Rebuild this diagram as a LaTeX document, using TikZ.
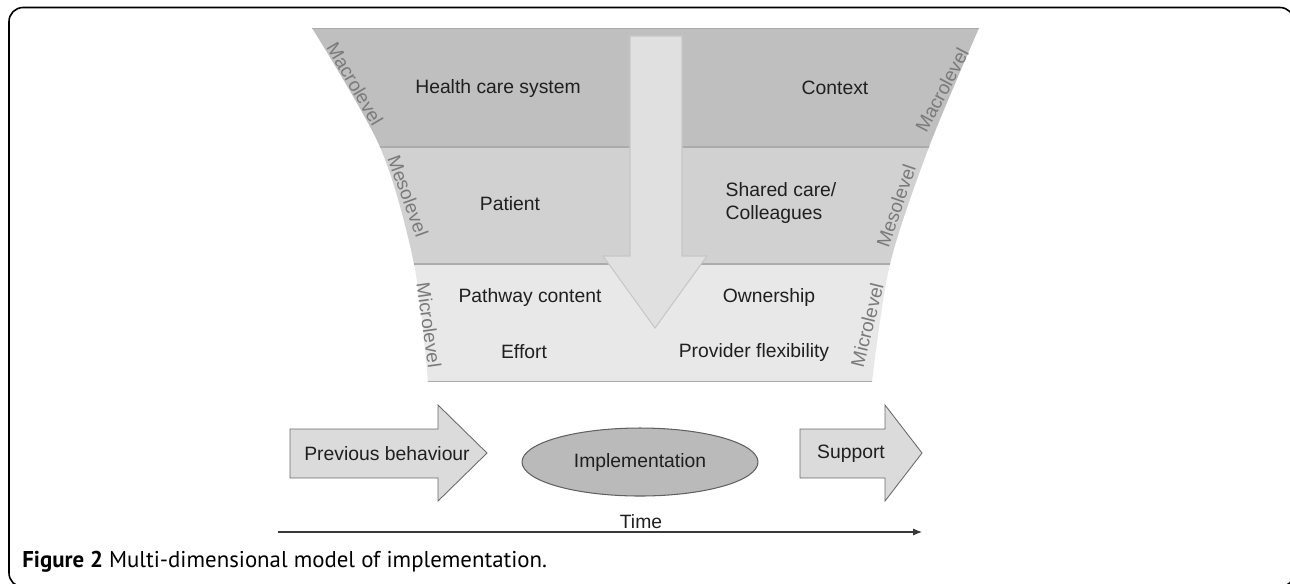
\documentclass[tikz,border=0pt]{standalone}
\usepackage{fontspec}
\setmainfont{Liberation Sans}
\newfontfamily\capfont{PT Sans}
\usetikzlibrary{arrows.meta,shapes.geometric}

\begin{document}
\begin{tikzpicture}[
    x=0.02cm, y=-0.02cm, %one unit is one pixel of the figure
    inner sep=0pt,
    lbl/.style={font=\fontsize{11}{13.5}\selectfont, text=black!88},
    lvl/.style={font=\fontsize{10.8}{12}\selectfont, text=black!52},
    sep/.style={draw=black!33, line width=0.6pt},
    blockarr/.style={draw=black!58, fill=black!14, line width=0.5pt,
        line join=miter},
    >={Latex[length=5pt,width=4pt]},
    ]
    \useasboundingbox (0,0) rectangle (1290,583);

    %frame
    \draw[line width=0.9pt, rounded corners=8] (9,7.5) rectangle (1294,587);

    %levels
    \begin{scope}
        \clip plot[smooth] coordinates {(312,28) (380,147) (414,264) (428,382)}
            -- plot[smooth] coordinates {(872,382) (890,264) (929,147) (979,28)}
            -- cycle;
        \fill[black!25] (300,28) rectangle (1000,147);
        \fill[black!18] (300,147) rectangle (1000,264);
        \fill[black!9] (300,264) rectangle (1000,382);
        \draw[sep] (300,28.5) -- (1000,28.5);
        \draw[sep] (300,147) -- (1000,147);
        \draw[sep] (300,264) -- (1000,264);
        \draw[sep] (300,381.5) -- (1000,381.5);
    \end{scope}

    %down arrow
    \draw[fill=black!12, draw=black!22, line width=0.6pt]
        (630,36) -- (682,36) -- (682,256) -- (707,256) -- (655,328)
        -- (603,256) -- (630,256) -- cycle;

    %factors
    \node[lbl] (hcs) at (498,88) {Health care system};
    \node[lbl] (ctx) at (835,88) {Context};
    \node[lbl] (pat) at (510,204) {Patient};
    \node[lbl, align=left] (shc) at (781,203) {Shared care/\\Colleagues};
    \node[lbl] (pwc) at (530,297) {Pathway content};
    \node[lbl] (own) at (769,297) {Ownership};
    \node[lbl] (eff) at (524,352) {Effort};
    \node[lbl] (prf) at (754,352) {Provider flexibility};

    %level names
    \node[lvl, rotate=-59.5] (macl) at (355,84) {Macrolevel};
    \node[lvl, rotate=-70] (mesl) at (408,196) {Mesolevel};
    \node[lvl, rotate=-82] (micl) at (429,325) {Microlevel};
    \node[lvl, rotate=62] (macr) at (942,90) {Macrolevel};
    \node[lvl, rotate=71] (mesr) at (896,206) {Mesolevel};
    \node[lvl, rotate=76] (micr) at (867,325) {Microlevel};

    %process
    \draw[blockarr] (290,429) -- (438,429) -- (438,405) -- (487,453)
        -- (438,501) -- (438,478) -- (290,478) -- cycle;
    \node[lbl] (prev) at (387,454) {Previous behaviour};
    \node[lbl, ellipse, draw=black!62, fill=black!27, line width=0.6pt,
        minimum width=4.72cm, minimum height=1.36cm] (impl) at (640,462)
        {Implementation};
    \draw[blockarr] (800,429) -- (885,429) -- (885,405) -- (922,453)
        -- (885,501) -- (885,478) -- (800,478) -- cycle;
    \node[lbl] (supp) at (851,454) {Support};

    %time
    \node[lbl] (time) at (641,522) {Time};
    \coordinate (t0) at (278,532);
    \coordinate (t1) at (922,532);
    \draw[->, line width=0.6pt, black!78] (t0) -- (t1);

    %caption
    \node[anchor=base west, font=\capfont\fontsize{13}{15}\selectfont]
        (cap) at (22,567) {\textbf{Figure 2} Multi-dimensional model of implementation.};
\end{tikzpicture}
\end{document}
